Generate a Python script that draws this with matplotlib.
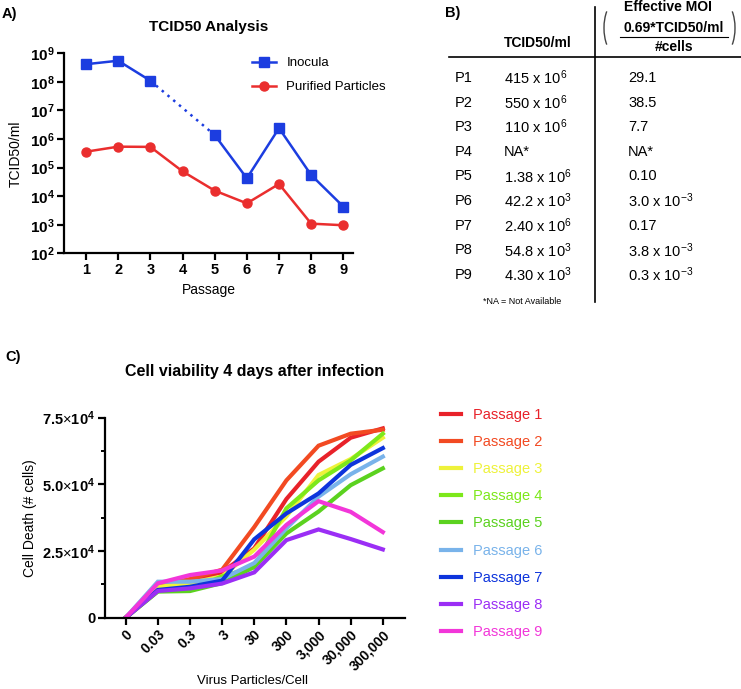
import numpy as np
import matplotlib
matplotlib.use('Agg')
import matplotlib.pyplot as plt
from matplotlib.lines import Line2D
from matplotlib.patches import Arc

plt.rcParams['font.family'] = ['Liberation Sans', 'DejaVu Sans']
plt.rcParams['mathtext.fontset'] = 'custom'
plt.rcParams['mathtext.rm'] = 'Liberation Sans'
plt.rcParams['mathtext.bf'] = 'Liberation Sans:bold'
plt.rcParams['mathtext.it'] = 'Liberation Sans:italic'

# ---- datos panel A ----
pasajes = [1, 2, 3, 4, 5, 6, 7, 8, 9]
inocula = [415e6, 550e6, 110e6, np.nan, 1.38e6, 42.2e3, 2.40e6, 54.8e3, 4.30e3]
purificadas = [3.6e5, 5.4e5, 5.3e5, 7.4e4, 1.56e4, 5.6e3, 2.67e4, 1.09e3, 9.6e2]

# ---- datos panel B (tabla) ----
filas = ['P1', 'P2', 'P3', 'P4', 'P5', 'P6', 'P7', 'P8', 'P9']
tcid_txt = ['415 x 10$^{6}$', '550 x 10$^{6}$', '110 x 10$^{6}$', 'NA*', '1.38 x 10$^{6}$',
            '42.2 x 10$^{3}$', '2.40 x 10$^{6}$', '54.8 x 10$^{3}$', '4.30 x 10$^{3}$']
moi_txt = ['29.1', '38.5', '7.7', 'NA*', '0.10', '3.0 x 10$^{-3}$', '0.17',
           '3.8 x 10$^{-3}$', '0.3 x 10$^{-3}$']

# ---- datos panel C ----
dosis = ['0', '0.03', '0.3', '3', '30', '300', '3,000', '30,000', '300,000']
muerte = {
    'Passage 1': [0, 11000, 14000, 17000, 26000, 44500, 58500, 67500, 71000],
    'Passage 2': [0, 12000, 14500, 18000, 34000, 51500, 64500, 69000, 70500],
    'Passage 3': [0, 11500, 13000, 15500, 25500, 38000, 53500, 59500, 67500],
    'Passage 4': [0, 10000, 10500, 15500, 19000, 41000, 51500, 59000, 69000],
    'Passage 5': [0, 9800, 10000, 13000, 19000, 31600, 39800, 49700, 56000],
    'Passage 6': [0, 13500, 13500, 14500, 20500, 33500, 45400, 53800, 60400],
    'Passage 7': [0, 10400, 11600, 13900, 29400, 39100, 46600, 57300, 63600],
    'Passage 8': [0, 10000, 11000, 12800, 17000, 29100, 33100, 29500, 25600],
    'Passage 9': [0, 12900, 16000, 17700, 22900, 34800, 43700, 39700, 32100],
}
colores = ['#e8222a', '#f24a22', '#eef23a', '#7de81a', '#5bd21f',
           '#79b3ea', '#0d34dc', '#9b2ef5', '#f236d9']

W, H = 741, 689
fig = plt.figure(figsize=(W / 100, H / 100), dpi=100)

def px(x, y):
    return x / W, 1 - y / H

# ================= Panel A =================
axA = fig.add_axes([64.3 / W, 1 - 253.3 / H, (353 - 64.3) / W, (253.3 - 53.3) / H])
azul = '#1c3de0'
rojo = '#ea2e2e'
x = np.array(pasajes)
ino = np.array(inocula)
axA.plot(x[:3], ino[:3], color=azul, lw=1.8, marker='s', ms=6.5, label='Inocula')
axA.plot(x[4:], ino[4:], color=azul, lw=1.8, marker='s', ms=6.5)
axA.plot([x[2], x[4]], [ino[2], ino[4]], color=azul, lw=1.8, ls=(0, (1, 2)))
axA.plot(x, purificadas, color=rojo, lw=1.8, marker='o', ms=6.5, label='Purified Particles')
axA.set_yscale('log')
axA.set_ylim(1e2, 1e9)
axA.set_xlim(0.325, 9.3)
axA.set_yticks([10.0 ** k for k in range(2, 10)])
axA.set_yticklabels([r'$\mathbf{10^{%d}}$' % k for k in range(2, 10)], fontsize=11)
axA.yaxis.set_minor_locator(matplotlib.ticker.NullLocator())
axA.set_xticks(pasajes)
axA.set_xticklabels([str(p) for p in pasajes], fontsize=10.5, fontweight='bold')
for s in ['top', 'right']:
    axA.spines[s].set_visible(False)
for s in ['left', 'bottom']:
    axA.spines[s].set_linewidth(1.6)
axA.tick_params(width=1.6, length=5, pad=2)
axA.set_xlabel('Passage', fontsize=10, labelpad=4)
axA.set_ylabel('TCID50/ml', fontsize=10, labelpad=5)
axA.set_title('TCID50 Analysis', fontsize=11, fontweight='bold', pad=16)
axA.legend(loc='upper left', bbox_to_anchor=px(252, 57), bbox_transform=fig.transFigure,
           frameon=False, fontsize=9.5, handlelength=1.8, handletextpad=0.8,
           labelspacing=0.9, borderpad=0, borderaxespad=0)
fig.text(*px(2, 14), 'A)', fontsize=10.5, fontweight='bold', va='center', ha='left')

# ================= Panel B =================
fig.text(*px(445, 13), 'B)', fontsize=10.5, fontweight='bold', va='center', ha='left')
fig.add_artist(Line2D([595 / W, 595 / W], [1 - 7 / H, 1 - 302 / H], color='black', lw=1.2))
fig.add_artist(Line2D([449 / W, 741 / W], [1 - 57 / H, 1 - 57 / H], color='black', lw=1.2))
fig.text(*px(538, 43), 'TCID50/ml', fontsize=10, fontweight='bold', ha='center', va='center')
fig.text(*px(668, 7), 'Effective MOI', fontsize=10, fontweight='bold', ha='center', va='center')
fig.text(*px(674, 28), '0.69*TCID50/ml', fontsize=10, fontweight='bold', ha='center', va='center')
fig.text(*px(674, 47), '#cells', fontsize=10, fontweight='bold', ha='center', va='center')
fig.add_artist(Line2D([620 / W, 728 / W], [1 - 37 / H, 1 - 37 / H], color='black', lw=0.8))
# parentesis grandes
fig.add_artist(Arc(px(614, 28), 20 / W, 48 / H, theta1=112, theta2=248,
                   transform=fig.transFigure, color='#444444', lw=1.0))
fig.add_artist(Arc(px(725, 28), 20 / W, 48 / H, theta1=-68, theta2=68,
                   transform=fig.transFigure, color='#444444', lw=1.0))
for i, (f, t, m) in enumerate(zip(filas, tcid_txt, moi_txt)):
    yy = 78 + i * 24.6
    fig.text(*px(455, yy), f, fontsize=10.5, ha='left', va='center')
    fig.text(*px(504, yy), t, fontsize=10.5, ha='left', va='center')
    fig.text(*px(628, yy), m, fontsize=10.5, ha='left', va='center')
fig.text(*px(483, 302), '*NA = Not Available', fontsize=6.5, ha='left', va='center')

# ================= Panel C =================
axC = fig.add_axes([105 / W, 1 - 617.7 / H, (405 - 105) / W, (617.7 - 417.7) / H])
xs = np.arange(len(dosis))
for (nombre, vals), c in zip(muerte.items(), colores):
    axC.plot(xs, vals, color=c, lw=3, label=nombre, solid_joinstyle='miter')
axC.set_xlim(-0.644, 8.69)
axC.set_ylim(0, 75000)
axC.set_yticks([0, 25000, 50000, 75000])
axC.set_yticklabels(['0', r'$\mathbf{2.5}$$\times$$\mathbf{10^{4}}$',
                     r'$\mathbf{5.0}$$\times$$\mathbf{10^{4}}$',
                     r'$\mathbf{7.5}$$\times$$\mathbf{10^{4}}$'],
                    fontsize=10.5, fontweight='bold')
axC.set_yticks([12500, 37500, 62500], minor=True)
axC.set_xticks(xs)
axC.set_xticklabels(dosis, rotation=45, ha='right', va='top', rotation_mode='anchor',
                    fontsize=10, fontweight='bold')
for s in ['top', 'right']:
    axC.spines[s].set_visible(False)
for s in ['left', 'bottom']:
    axC.spines[s].set_linewidth(1.6)
axC.tick_params(width=1.6, length=5, pad=2)
axC.tick_params(which='minor', width=1.4, length=3)
axC.set_xlabel('Virus Particles/Cell', fontsize=9.5)
axC.xaxis.set_label_coords(148 / 300, -(675 - 617.7) / 200)
axC.set_ylabel('Cell Death (# cells)', fontsize=10, labelpad=4)
axC.set_title('Cell viability 4 days after infection', fontsize=11.5, fontweight='bold', pad=30)
axC.legend(loc='upper left', bbox_to_anchor=px(441, 408), bbox_transform=fig.transFigure,
           frameon=False, fontsize=10.5, handlelength=1.4, handletextpad=0.8,
           labelspacing=0.9, borderpad=0, borderaxespad=0, labelcolor='linecolor')
fig.text(*px(5, 357), 'C)', fontsize=10.5, fontweight='bold', va='center', ha='left')

fig.savefig('out.png', dpi=100)
